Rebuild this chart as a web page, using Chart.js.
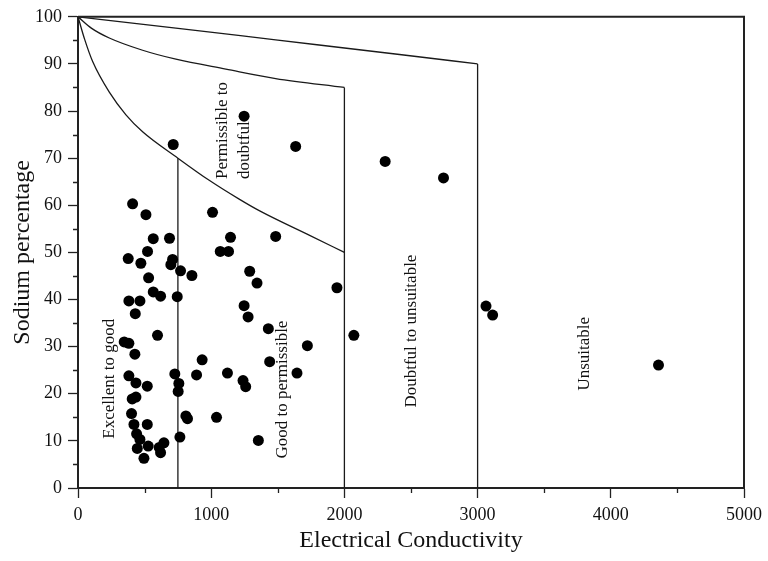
<!DOCTYPE html>
<html>
<head>
<meta charset="utf-8">
<script src="https://cdn.jsdelivr.net/npm/chart.js@4.4.1/dist/chart.umd.min.js"></script>
<style>
  html, body { margin: 0; padding: 0; background: #fff; }
  #wrap { width: 768px; height: 561px; }
</style>
</head>
<body>
<div id="wrap"><canvas id="c" width="768" height="561"></canvas></div>
<script>
// ---- Sample data: Electrical Conductivity (EC) vs Sodium percentage (Na%) ----
const ecValues = [410,510,565,687,522,377,472,710,697,770,855,530,565,620,745,382,465,430,597,347,
  382,427,932,382,727,890,435,520,757,752,435,407,402,810,822,1040,420,520,440,465,
  765,645,445,527,610,620,495,1010,1068,1130,1145,1484,1289,1344,1944,1247,1277,1429,2071,1722,
  1439,1122,1644,1239,1259,1354,715,1247,1634,2306,2744,3063,3113,4358];
const naValues = [60.3,58.0,52.9,53.0,50.2,48.7,47.7,48.5,47.4,46.1,45.1,44.6,41.6,40.7,40.6,39.7,39.7,37.0,32.4,31.0,
  30.7,28.4,27.2,23.8,24.2,24.0,22.3,21.6,22.2,20.5,19.3,18.9,15.8,15.3,14.7,15.0,13.5,13.5,11.5,10.3,
  10.8,9.6,8.4,8.9,8.6,7.5,6.3,58.5,50.2,50.2,53.2,53.4,46.0,43.5,42.5,38.7,36.3,33.8,32.4,30.2,
  26.8,24.4,24.4,22.8,21.5,10.1,72.9,78.9,72.5,69.3,65.8,38.6,36.7,26.1];

// ---- Wilcox class boundaries ----
const lowerCurveEC = [0,50,110,235,360,485,750,985,1210,1364,1739,2000];
const lowerCurveNa = [100,95.2,90.5,84.0,79.2,75.6,70,65.3,61.3,58.8,53.6,50];
const middleCurveEC = [0,100,235,485,735,1110,1484,2000];
const middleCurveNa = [100,97.6,95.5,92.9,91.0,88.9,86.9,85];
const upperCurveEC = [0,735,1484,2414,3000];
const upperCurveNa = [100,97.6,95.1,92,90];
const verticalEC = [750,2000,3000];
const verticalTopNa = [70,85,90];

// ---- Axis ticks ----
const xMajorTicks = [0,1000,2000,3000,4000,5000];
const yMajorTicks = [0,10,20,30,40,50,60,70,80,90,100];
const xMinorTicks = [500,1500,2500,3500,4500];
const yMinorTicks = [5,15,25,35,45,55,65,75,85,95];

// ---- Region labels ----
const regionLabels = [
  { text: 'Excellent to good', ec: 240, na: 23.2, align: 'center' },
  { text: 'Good to permissible', ec: 1539, na: 20.9, align: 'center' },
  { text: 'Permissible to', ec: 1085, na: 65.6, align: 'left' },
  { text: 'doubtful', ec: 1247, na: 65.6, align: 'left' },
  { text: 'Doubtful to unsuitable', ec: 2501, na: 33.3, align: 'center' },
  { text: 'Unsuitable', ec: 3801, na: 28.5, align: 'center' }
];

const SERIF = '"Liberation Serif", "Times New Roman", serif';
const LINE = '#1a1a1a';

function pairs(xs, ys) { return xs.map((x, i) => ({ x: x, y: ys[i] })); }

const boundaryStyle = {
  type: 'line', showLine: true, pointRadius: 0, borderColor: LINE, borderWidth: 1.3,
  fill: false, cubicInterpolationMode: 'monotone'
};

const datasets = [
  {
    type: 'scatter', label: 'Samples', data: pairs(ecValues, naValues),
    pointRadius: 5.5, pointBackgroundColor: '#000', pointBorderColor: '#000', pointBorderWidth: 0
  },
  Object.assign({ label: 'lower', data: pairs(lowerCurveEC, lowerCurveNa) }, boundaryStyle),
  Object.assign({ label: 'middle', data: pairs(middleCurveEC, middleCurveNa) }, boundaryStyle),
  Object.assign({ label: 'upper', data: pairs(upperCurveEC, upperCurveNa) }, boundaryStyle)
];
verticalEC.forEach((ec, i) => {
  datasets.push(Object.assign({}, boundaryStyle, {
    label: 'v' + ec, data: [{ x: ec, y: 0 }, { x: ec, y: verticalTopNa[i] }], cubicInterpolationMode: 'default', tension: 0
  }));
});

const decorPlugin = {
  id: 'decor',
  afterDraw(chart) {
    const ctx = chart.ctx;
    const xs = chart.scales.x, ys = chart.scales.y;
    const a = chart.chartArea;
    ctx.save();
    // frame top & right
    ctx.strokeStyle = '#222';
    ctx.lineWidth = 2;
    ctx.beginPath();
    ctx.moveTo(a.left, a.top);
    ctx.lineTo(a.right, a.top);
    ctx.lineTo(a.right, a.bottom);
    ctx.stroke();
    // minor ticks
    ctx.lineWidth = 1.3;
    ctx.beginPath();
    xMinorTicks.forEach(v => {
      const px = Math.round(xs.getPixelForValue(v)) + 0.5;
      ctx.moveTo(px, a.bottom);
      ctx.lineTo(px, a.bottom + 5);
    });
    yMinorTicks.forEach(v => {
      const py = Math.round(ys.getPixelForValue(v)) + 0.5;
      ctx.moveTo(a.left, py);
      ctx.lineTo(a.left - 5, py);
    });
    ctx.stroke();
    // region labels
    ctx.fillStyle = '#111';
    ctx.font = '17px ' + SERIF;
    ctx.textBaseline = 'middle';
    regionLabels.forEach(l => {
      ctx.save();
      ctx.translate(xs.getPixelForValue(l.ec), ys.getPixelForValue(l.na));
      ctx.rotate(-Math.PI / 2);
      ctx.textAlign = l.align;
      ctx.fillText(l.text, 0, 0);
      ctx.restore();
    });
    ctx.restore();
  }
};

new Chart(document.getElementById('c'), {
  type: 'scatter',
  data: { datasets: datasets },
  options: {
    responsive: false,
    animation: false,
    layout: { padding: { top: 14, right: 23, left: 0, bottom: 0 } },
    plugins: { legend: { display: false }, tooltip: { enabled: false } },
    scales: {
      x: {
        type: 'linear', min: 0, max: 5000,
        afterBuildTicks: s => { s.ticks = xMajorTicks.map(v => ({ value: v })); },
        afterFit: s => { s.height = 73; },
        ticks: { font: { family: SERIF, size: 18 }, color: '#111', padding: 6, maxRotation: 0,
                 callback: v => String(v) },
        grid: { drawOnChartArea: false, drawTicks: true, tickLength: 10, tickColor: '#222', tickWidth: 1.3 },
        border: { display: true, color: '#222', width: 2 },
        title: { display: true, text: 'Electrical Conductivity', color: '#111',
                 font: { family: SERIF, size: 24 }, padding: { top: 0, bottom: 6 } }
      },
      y: {
        type: 'linear', min: 0, max: 100,
        afterBuildTicks: s => { s.ticks = yMajorTicks.map(v => ({ value: v })); },
        afterFit: s => { s.width = 78; },
        ticks: { font: { family: SERIF, size: 18 }, color: '#111', padding: 6,
                 callback: v => String(v) },
        grid: { drawOnChartArea: false, drawTicks: true, tickLength: 10, tickColor: '#222', tickWidth: 1.3 },
        border: { display: true, color: '#222', width: 2 },
        title: { display: true, text: 'Sodium percentage', color: '#111',
                 font: { family: SERIF, size: 24 }, padding: { top: 8, bottom: 0 } }
      }
    }
  },
  plugins: [decorPlugin]
});
</script>
</body>
</html>
